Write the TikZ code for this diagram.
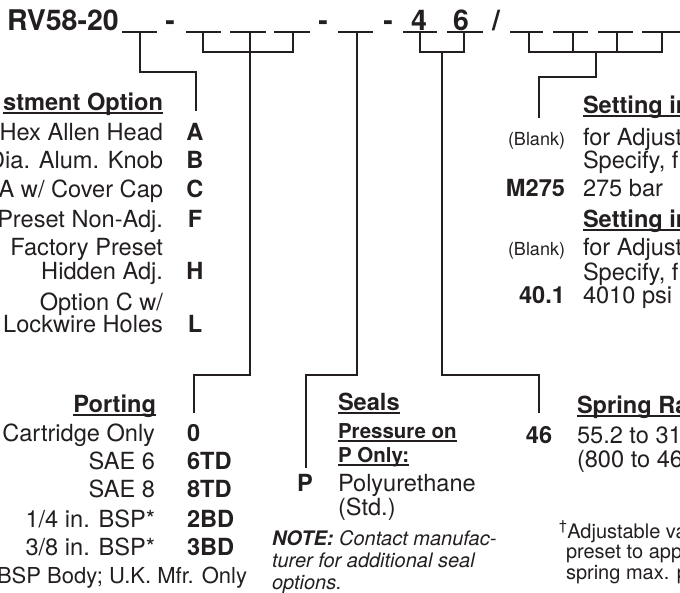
\documentclass[tikz,border=0pt]{standalone}
\usepackage{fontspec}
\setmainfont{TeX Gyre Heros}
\definecolor{ink}{HTML}{231F20}
\newcommand\myul[1]{\setbox0=\hbox{#1}\rlap{\rule[-3.6pt]{\wd0}{1.6pt}}\box0}
\begin{document}
\begin{tikzpicture}[x=1pt,y=-1pt,
  every node/.style={inner sep=0pt, outer sep=0pt, text=ink},
  body/.style={font=\fontsize{23.6}{28}\selectfont},
  bodyb/.style={font=\fontsize{23.6}{28}\selectfont\bfseries},
  smallb/.style={font=\fontsize{20.5}{24}\selectfont\bfseries},
  blank/.style={font=\fontsize{18}{22}\selectfont},
  foot/.style={font=\fontsize{20}{22}\selectfont},
  titlef/.style={font=\fontsize{28.5}{32}\selectfont\bfseries},
  notef/.style={font=\fontsize{20}{22}\selectfont\itshape},
  conn/.style={draw=ink, line width=1.3pt},
  slot/.style={draw=ink, line width=1.5pt}]
\useasboundingbox (0,0) rectangle (680,592);
\clip (0,0) rectangle (680,592);

% ---------- title line ----------
\node[titlef, anchor=base west] (title) at (7,30) {RV58-20};
\node[titlef, anchor=base] (d1) at (170,30) {-};
\node[titlef, anchor=base] (d2) at (323,30) {-};
\node[titlef, anchor=base] (d3) at (388,30) {-};
\node[titlef, anchor=base] (n4) at (419,30) {4};
\node[titlef, anchor=base] (n6) at (461,30) {6};
\node[titlef, anchor=base] (sl) at (496,30) {/};

\foreach \a/\b/\n in {122/157/1,186/221/2,230/266/3,274/310/4,338/373/5,403/437/6,447/483/7,510/543/8,553/588/9,598/633/10,642/690/11}{
  \coordinate (u\n a) at (\a,32);
  \coordinate (u\n b) at (\b,32);
  \path[slot] (u\n a) -- (u\n b);
}

% ---------- connectors ----------
\coordinate (c1a) at (140,33);
\coordinate (c1b) at (140,72);
\coordinate (c1c) at (196,72);
\coordinate (c1d) at (196,111);
\path[conn] (c1a) -- (c1b) -- (c1c) -- (c1d);

\coordinate (c2a) at (203,33);
\coordinate (c2b) at (203,52);
\coordinate (c2c) at (293,52);
\coordinate (c2d) at (293,33);
\coordinate (c2e) at (250,33);
\coordinate (c2f) at (250,375);
\coordinate (c2g) at (194,375);
\coordinate (c2h) at (194,413);
\path[conn] (c2a) -- (c2b) -- (c2c) -- (c2d);
\path[conn] (c2e) -- (c2f) -- (c2g) -- (c2h);

\coordinate (c3a) at (357,33);
\coordinate (c3b) at (357,375);
\coordinate (c3c) at (306,375);
\coordinate (c3d) at (306,468);
\path[conn] (c3a) -- (c3b) -- (c3c) -- (c3d);

\coordinate (c4a) at (420,33);
\coordinate (c4b) at (420,52);
\coordinate (c4c) at (464,52);
\coordinate (c4d) at (464,33);
\coordinate (c4e) at (442,52);
\coordinate (c4f) at (442,375);
\coordinate (c4g) at (539,375);
\coordinate (c4h) at (539,413);
\path[conn] (c4a) -- (c4b) -- (c4c) -- (c4d);
\path[conn] (c4e) -- (c4f) -- (c4g) -- (c4h);

\coordinate (c5a) at (529,33);
\coordinate (c5b) at (529,52);
\coordinate (c5c) at (662,52);
\coordinate (c5d) at (662,33);
\coordinate (c5e) at (573,33);
\coordinate (c5f) at (573,52);
\coordinate (c5g) at (617,33);
\coordinate (c5h) at (617,52);
\coordinate (c5i) at (596,52);
\coordinate (c5j) at (596,77);
\coordinate (c5k) at (539,77);
\coordinate (c5l) at (539,118);
\path[conn] (c5a) -- (c5b) -- (c5c) -- (c5d);
\path[conn] (c5e) -- (c5f);
\path[conn] (c5g) -- (c5h);
\path[conn] (c5i) -- (c5j) -- (c5k) -- (c5l);

% ---------- adjustment option ----------
\node[bodyb, anchor=base east] (adjh) at (163,110) {\myul{stment Option}};
\node[body, anchor=base east] (adj1) at (163,140) {Hex Allen Head};
\node[body, anchor=base east] (adj2) at (163,168) {Dia. Alum. Knob};
\node[body, anchor=base east] (adj3) at (163,197) {A w/ Cover Cap};
\node[body, anchor=base east] (adj4) at (163,227) {Preset Non-Adj.};
\node[body, anchor=base east] (adj5a) at (163,255) {Factory Preset};
\node[body, anchor=base east] (adj5b) at (163,279) {Hidden Adj.};
\node[body, anchor=base east] (adj6a) at (163,310) {Option C w/};
\node[body, anchor=base east] (adj6b) at (163,332) {Lockwire Holes};
\node[bodyb, anchor=base] (kA) at (195,140) {A};
\node[bodyb, anchor=base] (kB) at (195,168) {B};
\node[bodyb, anchor=base] (kC) at (195,197) {C};
\node[bodyb, anchor=base] (kF) at (195,227) {F};
\node[bodyb, anchor=base] (kH) at (195,279) {H};
\node[bodyb, anchor=base] (kL) at (195,332) {L};

% ---------- porting ----------
\node[bodyb, anchor=base east] (porth) at (156,412) {\myul{Porting}};
\node[body, anchor=base east] (p1) at (155,441) {Cartridge Only};
\node[body, anchor=base east] (p2) at (155,469) {SAE 6};
\node[body, anchor=base east] (p3) at (155,497) {SAE 8};
\node[body, anchor=base east] (p4) at (155,527) {1/4 in. BSP*};
\node[body, anchor=base east] (p5) at (155,555) {3/8 in. BSP*};
\node[bodyb, anchor=base west] (k0) at (187,441) {0};
\node[bodyb, anchor=base west] (k6) at (187,469) {6TD};
\node[bodyb, anchor=base west] (k8) at (187,497) {8TD};
\node[bodyb, anchor=base west] (k2) at (187,527) {2BD};
\node[bodyb, anchor=base west] (k3) at (187,555) {3BD};
\node[font=\fontsize{22}{26}\selectfont, anchor=base east] (pfoot) at (247,583) {BSP Body; U.K. Mfr. Only};

% ---------- seals ----------
\node[bodyb, anchor=base west] (sealh) at (338,410) {\myul{Seals}};
\node[smallb, anchor=base west] (press1) at (338,438) {\myul{Pressure on}};
\node[smallb, anchor=base west] (press2) at (338,462) {\myul{P Only:}};
\node[bodyb, anchor=base] (kP) at (305,491) {P};
\node[body, anchor=base west] (poly1) at (338,491) {Polyurethane};
\node[body, anchor=base west] (poly2) at (338,515) {(Std.)};
\node[notef, anchor=base west] (note1) at (272,545) {\textbf{NOTE:} Contact manufac-};
\node[notef, anchor=base west] (note2) at (272,567) {turer for additional seal};
\node[notef, anchor=base west] (note3) at (272,589) {options.};

% ---------- setting ----------
\node[bodyb, anchor=base west] (seth1) at (583,113) {\myul{Setting in}};
\node[blank, anchor=base east] (b1) at (565,145) {(Blank)};
\node[body, anchor=base west] (s1a) at (583,145) {for Adjust};
\node[body, anchor=base west] (s1b) at (583,168) {Specify, f};
\node[bodyb, anchor=base east] (kM) at (565,196) {M275};
\node[body, anchor=base west] (s1c) at (583,196) {275 bar};
\node[bodyb, anchor=base west] (seth2) at (583,227) {\myul{Setting in}};
\node[blank, anchor=base east] (b2) at (565,255) {(Blank)};
\node[body, anchor=base west] (s2a) at (583,255) {for Adjust};
\node[body, anchor=base west] (s2b) at (583,280) {Specify, f};
\node[bodyb, anchor=base east] (k40) at (565,303) {40.1};
\node[body, anchor=base west] (s2c) at (583,303) {4010 psi};

% ---------- spring ----------
\node[bodyb, anchor=base west] (sprh) at (577,413) {\myul{Spring Ra}};
\node[bodyb, anchor=base] (k46) at (539,443) {46};
\node[body, anchor=base west] (spr1) at (577,443) {55.2 to 31};
\node[body, anchor=base west] (spr2) at (577,467) {(800 to 46};
\node[foot, anchor=base west] (f1) at (559,538) {\textsuperscript{†}Adjustable va};
\node[foot, anchor=base west] (f2) at (566,558) {preset to app};
\node[foot, anchor=base west] (f3) at (566,579) {spring max. p};
\end{tikzpicture}
\end{document}
